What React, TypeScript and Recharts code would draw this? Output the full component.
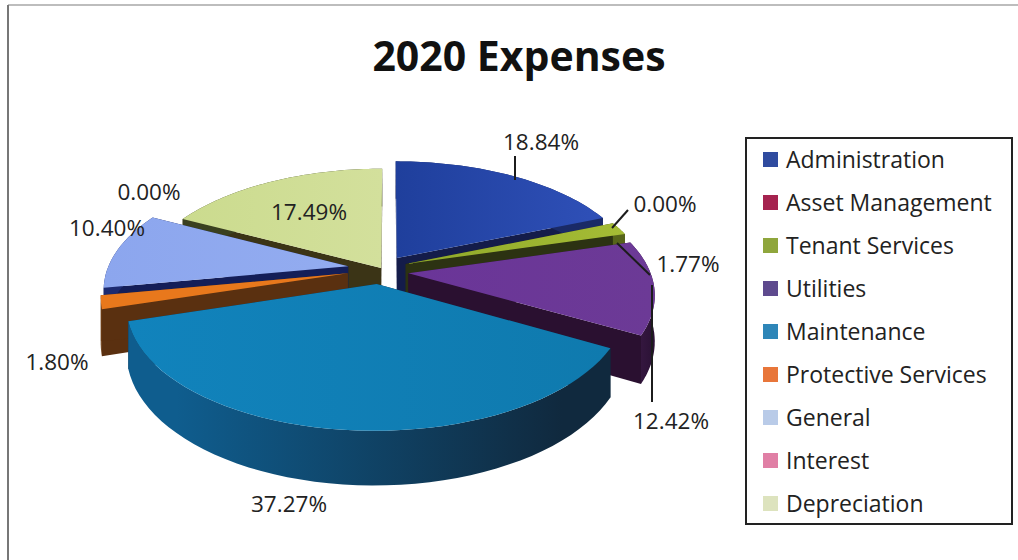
import React from "react";
import { PieChart, Pie, Legend } from "recharts";

const categories = [
  "Administration",
  "Asset Management",
  "Tenant Services",
  "Utilities",
  "Maintenance",
  "Protective Services",
  "General",
  "Interest",
  "Depreciation",
];
const shares = [18.84, 0, 1.77, 12.42, 37.27, 1.8, 10.4, 0, 17.49];

const legendColors = ["#2F4B9F", "#A5234F", "#8FA63C", "#5E4A8E", "#2E86B8", "#E8763A", "#B9CBE8", "#E07FA5", "#DDE3BE"];

// per slice look: top face, outer wall (left to right), cut face
const sliceLooks = [
  { top: ["#1F3F9C", "#2F50B8"], wall: ["#1A2A66", "#1A2A66"], face: "#141C4A" },
  { top: ["#A5234F", "#A5234F"], wall: ["#5A1028", "#5A1028"], face: "#401020" },
  { top: ["#8FA82A", "#A5BC35"], wall: ["#56641A", "#56641A"], face: "#2C3212" },
  { top: ["#6A3598", "#6C3A96"], wall: ["#3A1A45", "#2C1236"], face: "#2A1030" },
  { top: ["#1183BC", "#0F7AAE"], wall: ["#0F5D8E", "#10293E"], face: "#10293E" },
  { top: ["#E8781C", "#E8781C"], wall: ["#6A3A12", "#6A3A12"], face: "#5A3010" },
  { top: ["#8CA6EE", "#93ACF0"], wall: ["#1C2A70", "#1C2A70"], face: "#141E58" },
  { top: ["#E07FA5", "#E07FA5"], wall: ["#7A3A55", "#7A3A55"], face: "#5A2A40" },
  { top: ["#CBDB8E", "#D3E09C"], wall: ["#3A4020", "#3A4020"], face: "#3B3416" },
];

// how far each slice is pulled out, in pie radii
const sliceShift = [
  [0.033, -0.052],
  [0.05, -0.02],
  [0.07, 0.0],
  [0.08, 0.08],
  [-0.05, 0.17],
  [-0.17, 0.08],
  [-0.17, 0.02],
  [-0.1, 0.0],
  [-0.033, 0.035],
];

// text centres for the labels, and leader lines where the chart has one
const labelSpots = [
  { x: 541, y: 141, line: [515, 156, 515, 180] },
  { x: 665, y: 203, line: [628, 210, 612, 228] },
  { x: 688, y: 263, line: [617, 243, 650, 275] },
  { x: 671, y: 420, line: [652, 285, 652, 402] },
  { x: 289, y: 503 },
  { x: 57, y: 361 },
  { x: 107, y: 227 },
  { x: 149, y: 191 },
  { x: 309, y: 211 },
];

// back to front
const paintOrder = [0, 1, 8, 7, 6, 2, 3, 5, 4];

const FONT = "'Open Sans', sans-serif";
const TILT = 0.48;
const PERSPECTIVE = 0.167;
const DEPTH = 44;

const pieData = categories.map((name, i) => ({ name, value: shares[i], fill: legendColors[i] }));

const project = (cx: number, cy: number, r: number, u: number, v: number, z = 0) => {
  const w = 1 / (1 - PERSPECTIVE * v);
  return [cx + r * u * w, cy + r * TILT * v * w + z * w];
};

const toPath = (pts: number[][]) =>
  "M" + pts.map((p) => p[0].toFixed(1) + " " + p[1].toFixed(1)).join("L") + "Z";

const Slice3D = ({ cx, cy, outerRadius, startAngle, endAngle, index }: any) => {
  const look = sliceLooks[index];
  const [du, dv] = sliceShift[index];
  if (startAngle === endAngle) return <g />;

  const from = ((90 - startAngle) * Math.PI) / 180;
  const to = ((90 - endAngle) * Math.PI) / 180;
  const steps = 48;
  const rim = (z: number) => {
    const pts: number[][] = [];
    for (let s = 0; s <= steps; s++) {
      const a = from + ((to - from) * s) / steps;
      pts.push(project(cx, cy, outerRadius, Math.sin(a) + du, -Math.cos(a) + dv, z));
    }
    return pts;
  };
  const apex = project(cx, cy, outerRadius, du, dv);
  const apexLow = project(cx, cy, outerRadius, du, dv, DEPTH);
  const high = rim(0);
  const low = rim(DEPTH);

  return (
    <g>
      <defs>
        <linearGradient id={`top${index}`} x1="0" y1="0" x2="1" y2="0">
          <stop offset="0" stopColor={look.top[0]} />
          <stop offset="1" stopColor={look.top[1]} />
        </linearGradient>
        <linearGradient id={`wall${index}`} x1="0" y1="0" x2="1" y2="0">
          <stop offset="0.1" stopColor={look.wall[0]} />
          <stop offset="0.9" stopColor={look.wall[1]} />
        </linearGradient>
      </defs>
      <path d={toPath([apex, high[0], low[0], apexLow])} fill={look.face} />
      <path d={toPath([apex, high[steps], low[steps], apexLow])} fill={look.face} />
      <path d={toPath([...high, ...low.slice().reverse()])} fill={`url(#wall${index})`} />
      <path d={toPath([apex, ...high])} fill={`url(#top${index})`} />
    </g>
  );
};

const renderLabel = ({ index, value }: any) => {
  const spot = labelSpots[index];
  return (
    <g key={index}>
      {spot.line && (
        <line
          x1={spot.line[0]}
          y1={spot.line[1]}
          x2={spot.line[2]}
          y2={spot.line[3]}
          stroke="#1c1c1c"
          strokeWidth={2}
        />
      )}
      <text
        x={spot.x}
        y={spot.y}
        textAnchor="middle"
        dominantBaseline="central"
        fontFamily={FONT}
        fontSize={22.5}
        fill="#222"
      >
        {value.toFixed(2)}%
      </text>
    </g>
  );
};

const renderLegend = () => (
  <div>
    {categories.map((name, i) => (
      <div
        key={name}
        style={{ position: "absolute", left: 16, top: 0 + i * 43, height: 40, display: "flex", alignItems: "center" }}
      >
        <span style={{ width: 15, height: 15, background: legendColors[i], marginRight: 8 }} />
        <span style={{ fontFamily: FONT, fontSize: 23, color: "#222", whiteSpace: "nowrap" }}>{name}</span>
      </div>
    ))}
  </div>
);

const App = () => (
  <div style={{ position: "absolute", left: 0, top: 0, width: 1018, height: 560, background: "#fff" }}>
    <PieChart width={1018} height={560} margin={{ top: 0, right: 0, bottom: 0, left: 0 }}>
      <line x1={8} y1={5} x2={1018} y2={5} stroke="#bdbdbd" strokeWidth={2} />
      <line x1={8} y1={5} x2={8} y2={560} stroke="#777" strokeWidth={2} />
      <text x={519} y={71} textAnchor="middle" fontFamily={FONT} fontWeight={700} fontSize={41} fill="#111">
        2020 Expenses
      </text>
      {paintOrder.map((slice) => (
        <Pie
          key={slice}
          data={pieData}
          dataKey="value"
          nameKey="name"
          cx={389}
          cy={264}
          outerRadius={239}
          startAngle={90}
          endAngle={-270}
          stroke="none"
          legendType="none"
          isAnimationActive={false}
          shape={(props: any) => (props.index === slice ? <Slice3D {...props} /> : <g />)}
        />
      ))}
      <Pie
        data={pieData}
        dataKey="value"
        nameKey="name"
        cx={389}
        cy={264}
        outerRadius={239}
        startAngle={90}
        endAngle={-270}
        stroke="none"
        legendType="square"
        isAnimationActive={false}
        shape={() => <g />}
        label={renderLabel}
        labelLine={false}
      />
      <Legend
        layout="vertical"
        content={renderLegend}
        wrapperStyle={{
          position: "absolute",
          left: 745,
          top: 137,
          width: 268,
          height: 388,
          border: "2px solid #222",
          boxSizing: "border-box",
          background: "#fff",
        }}
      />
    </PieChart>
  </div>
);

export default App;
